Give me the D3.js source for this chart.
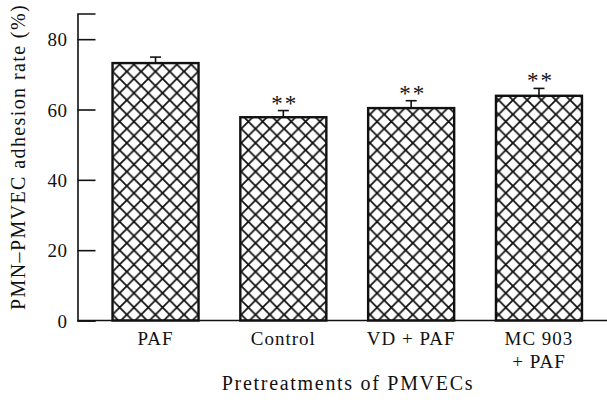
<!DOCTYPE html>
<html>
<head>
<meta charset="utf-8">
<script src="https://cdn.jsdelivr.net/npm/d3@7"></script>
<style>
  html, body { margin: 0; padding: 0; background: #fff; }
  svg { display: block; }
  text { font-family: "Liberation Serif", "DejaVu Serif", serif; fill: #111; }
</style>
</head>
<body>
<svg id="chart" width="607" height="402"></svg>
<script>
const categories = ["PAF", "Control", "VD + PAF", "MC 903\n+ PAF"];
const means = [73.2, 57.8, 60.4, 63.9];
const errors = [1.7, 1.9, 2.1, 2.1];
const significance = ["", "**", "**", "**"];
const yTicks = [0, 20, 40, 60, 80];
const yLabel = "PMN\u2013PMVEC adhesion rate (%)";
const xLabel = "Pretreatments of PMVECs";

const svg = d3.select("#chart");
const W = 607, H = 402;
const axisX = 77.5, baseY = 320.5, topY = 13.5;

const y = d3.scaleLinear().domain([0, 87.3]).range([baseY, topY]);
const x = d3.scaleBand()
  .domain(categories)
  .range([axisX, 617])
  .paddingInner(0.327)
  .paddingOuter(0.274);

// hatch pattern
const defs = svg.append("defs");
const pat = defs.append("pattern")
  .attr("id", "hatch")
  .attr("patternUnits", "userSpaceOnUse")
  .attr("width", 14.3).attr("height", 14.3)
  .attr("x", x(categories[0])).attr("y", 0);
pat.append("rect").attr("width", 14.3).attr("height", 14.3).attr("fill", "#fff");
pat.append("path")
  .attr("d", "M0,0 L14.3,14.3 M14.3,0 L0,14.3 M-1,13.3 L1,15.3 M13.3,-1 L15.3,1")
  .attr("stroke", "#111").attr("stroke-width", 1.8);

// Y axis
const yAxis = d3.axisRight(y).tickValues(yTicks).tickSize(18).tickFormat(d3.format("d"));
const gy = svg.append("g").attr("transform", `translate(${axisX},0)`).call(yAxis);
gy.select(".domain").attr("stroke", "#111").attr("stroke-width", 1.6);
gy.selectAll(".tick line").attr("stroke", "#111").attr("stroke-width", 1.6);
gy.selectAll(".tick text")
  .attr("x", -10).attr("dy", "0.35em")
  .attr("text-anchor", "end")
  .style("font-size", "19px")
  .style("letter-spacing", "0.5px")
  .style("font-family", "'Liberation Serif', serif");

// bars
const data = categories.map((c, i) => ({ c, m: means[i], e: errors[i], s: significance[i] }));

svg.append("g").selectAll("rect").data(data).join("rect")
  .attr("x", d => x(d.c))
  .attr("width", x.bandwidth())
  .attr("y", d => y(d.m))
  .attr("height", d => y(0) - y(d.m))
  .attr("fill", "url(#hatch)")
  .attr("stroke", "#111")
  .attr("stroke-width", 2.4);

// error bars (upper)
const eg = svg.append("g").attr("stroke", "#111").attr("stroke-width", 1.6);
eg.selectAll("line.v").data(data).join("line").attr("class", "v")
  .attr("x1", d => x(d.c) + x.bandwidth() / 2)
  .attr("x2", d => x(d.c) + x.bandwidth() / 2)
  .attr("y1", d => y(d.m))
  .attr("y2", d => y(d.m + d.e));
eg.selectAll("line.cap").data(data).join("line").attr("class", "cap")
  .attr("x1", d => x(d.c) + x.bandwidth() / 2 - 5.5)
  .attr("x2", d => x(d.c) + x.bandwidth() / 2 + 5.5)
  .attr("y1", d => y(d.m + d.e))
  .attr("y2", d => y(d.m + d.e));

// significance stars
svg.append("g").selectAll("text").data(data.filter(d => d.s)).join("text")
  .attr("x", d => x(d.c) + x.bandwidth() / 2 + 1.5)
  .attr("y", d => y(d.m + d.e) - 10 + 10)
  .attr("text-anchor", "middle")
  .style("font-size", "23px")
  .style("letter-spacing", "2px")
  .text(d => d.s);

// X axis baseline
svg.append("line")
  .attr("x1", axisX).attr("x2", W)
  .attr("y1", y(0)).attr("y2", y(0))
  .attr("stroke", "#111").attr("stroke-width", 1.6);

// category labels
const xl = svg.append("g").selectAll("text").data(categories).join("text")
  .attr("x", d => x(d) + x.bandwidth() / 2)
  .attr("y", 345)
  .attr("text-anchor", "middle")
  .style("font-size", "19px")
  .style("letter-spacing", "1px");
xl.each(function(d) {
  const lines = d.split("\n");
  d3.select(this).selectAll("tspan").data(lines).join("tspan")
    .attr("x", x(d) + x.bandwidth() / 2)
    .attr("dy", (l, i) => i === 0 ? 0 : 23)
    .text(l => l);
});

// axis titles
svg.append("text")
  .attr("x", 348).attr("y", 390)
  .attr("text-anchor", "middle")
  .style("font-size", "20px")
  .style("letter-spacing", "1.7px")
  .text(xLabel);

svg.append("text")
  .attr("transform", "translate(25,157) rotate(-90)")
  .attr("text-anchor", "middle")
  .style("font-size", "20px")
  .style("letter-spacing", "1.4px")
  .text(yLabel);
</script>
</body>
</html>
